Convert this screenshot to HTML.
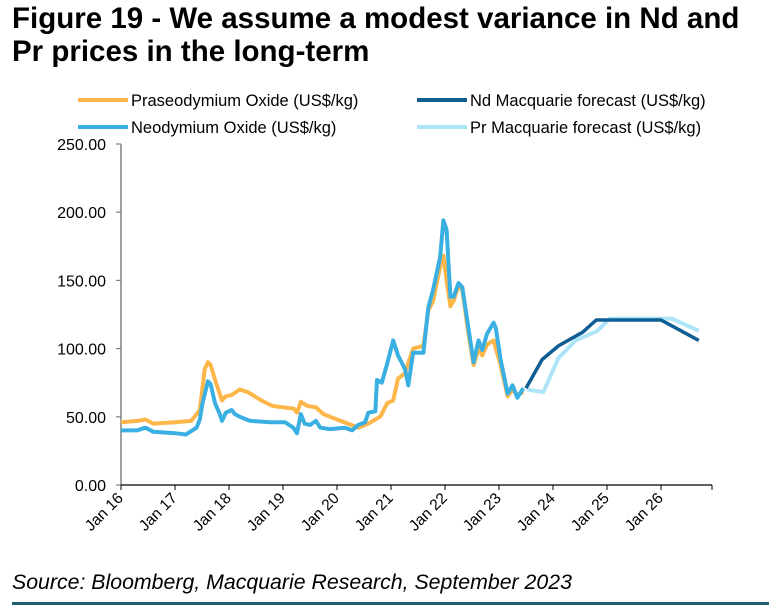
<!DOCTYPE html>
<html><head><meta charset="utf-8"><style>
body{margin:0;background:#fff;width:769px;height:608px;overflow:hidden;font-family:"Liberation Sans",sans-serif}
#title{position:absolute;left:12px;top:2px;font-size:29.5px;font-weight:bold;line-height:33px;color:#000}
#src{position:absolute;left:12px;top:570px;font-size:21.3px;font-style:italic;color:#000}
#rule{position:absolute;left:12px;top:602px;width:757px;height:3px;background:#1d5f70}
</style></head><body>
<div id="title">Figure 19 - We assume a modest variance in Nd and<br>Pr prices in the long-term</div>
<svg id="chart" width="769" height="608" style="position:absolute;left:0;top:0"></svg>
<div id="src">Source: Bloomberg, Macquarie Research, September 2023</div>
<div id="rule"></div>
<script>
const yTicks=[0,50,100,150,200,250];
const xYears=[2016,2017,2018,2019,2020,2021,2022,2023,2024,2025,2026];
const xLabels=["Jan 16","Jan 17","Jan 18","Jan 19","Jan 20","Jan 21","Jan 22","Jan 23","Jan 24","Jan 25","Jan 26"];
const ndT=[0,0.3,0.45,0.6,1.0,1.2,1.4,1.46,1.51,1.61,1.66,1.74,1.83,1.87,1.94,2.05,2.11,2.20,2.39,2.76,3.04,3.19,3.26,3.33,3.40,3.50,3.61,3.69,3.87,4.15,4.28,4.39,4.52,4.58,4.71,4.74,4.83,4.93,5.04,5.13,5.26,5.32,5.41,5.60,5.69,5.78,5.91,5.97,6.03,6.10,6.16,6.25,6.32,6.43,6.53,6.62,6.69,6.78,6.90,6.94,7.03,7.16,7.25,7.34,7.45];
const ndV=[40,40,42,39,38,37,42,48,60,76,74,60,52,47,53,55,52,50,47,46,46,42,38,52,45,44,47,42,41,42,40,44,46,53,54,77,75,89,106,95,85,73,97,97,130,143,167,194,187,138,138,148,145,116,90,106,99,111,119,115,92,67,73,64,71];
const prT=[0,0.3,0.45,0.6,1.0,1.3,1.4,1.46,1.55,1.61,1.66,1.75,1.87,1.94,2.05,2.2,2.35,2.6,2.8,3.0,3.2,3.26,3.33,3.45,3.61,3.75,4.0,4.2,4.4,4.58,4.71,4.8,4.93,5.04,5.13,5.26,5.41,5.60,5.69,5.78,5.91,5.97,6.03,6.10,6.16,6.25,6.32,6.43,6.53,6.62,6.69,6.78,6.90,6.94,7.03,7.16,7.25,7.34,7.45];
const prV=[46,47,48,45,46,47,52,55,85,90,88,76,62,65,66,70,68,62,58,57,56,53,61,58,57,52,48,45,42,45,48,50,60,62,78,82,100,102,128,135,160,168,150,131,135,146,143,112,88,100,95,103,106,100,88,65,70,66,68];
const ndfT=[7.5,7.8,8.1,8.55,8.8,10.0,10.7];
const ndfV=[71,92,102,112,121,121,106];
const prfT=[7.52,7.82,8.1,8.42,8.82,9.05,10.2,10.7];
const prfV=[70,68,93,106,113,122,122,113];
const NS="http://www.w3.org/2000/svg",svg=document.getElementById('chart');
const X0=121,XS=54,Y0=485,YS=341/250;
const xs=t=>X0+t*XS, ys=v=>Y0-v*YS;
function mk(tag,at,parent){const e=document.createElementNS(NS,tag);for(const k in at)e.setAttribute(k,at[k]);(parent||svg).appendChild(e);return e;}
let a=mk('line',{x1:X0,y1:ys(250),x2:X0,y2:Y0,stroke:'#808080','stroke-width':1.5});


a=mk('line',{x1:X0,y1:Y0,x2:712,y2:Y0,stroke:'#000','stroke-width':1.2});


yTicks.forEach(v=>{
 mk('line',{x1:X0-5,y1:ys(v),x2:X0,y2:ys(v),stroke:'#808080','stroke-width':1.2});
 const t=mk('text',{x:X0-15,y:ys(v)+6,'text-anchor':'end','font-size':16,fill:'#000'});
 t.textContent=v.toFixed(2);
 
 
});
xYears.concat([2027]).forEach((yr,i)=>{
 const x=Math.min(xs(yr-2016),712);
 mk('line',{x1:x,y1:Y0,x2:x,y2:Y0+5,stroke:'#000','stroke-width':1});
 if(i<xLabels.length){
  const t=mk('text',{x:x+3,y:Y0+14,'text-anchor':'end','font-size':15.5,fill:'#000',transform:`rotate(-45 ${x+3} ${Y0+14})`});
  t.textContent=xLabels[i];
  
  
 }
});
function line(T,V,color,w,name){
 const d=T.map((t,i)=>(i?'L':'M')+xs(t).toFixed(1)+','+ys(V[i]).toFixed(1)).join('');
 const p=mk('path',{d,fill:'none',stroke:color,'stroke-width':w,'stroke-linejoin':'round'});
 
 
}
line(prfT,prfV,'#aee4f8',4,'pr-forecast-line');
line(ndfT,ndfV,'#0f5e93',3.5,'nd-forecast-line');
line(prT,prV,'#fdb64a',4,'praseodymium-line');
line(ndT,ndV,'#3ab0e2',4,'neodymium-line');
const leg=[[78,100,'#fdb64a','Praseodymium Oxide (US$/kg)'],[417,100,'#0f5e93','Nd Macquarie forecast (US$/kg)'],[78,127,'#3ab0e2','Neodymium Oxide (US$/kg)'],[417,127,'#aee4f8','Pr Macquarie forecast (US$/kg)']];
leg.forEach(l=>{
 const g=mk('g',{});
 
 
 mk('line',{x1:l[0],y1:l[1],x2:l[0]+50,y2:l[1],stroke:l[2],'stroke-width':4},g);
 const t=mk('text',{x:l[0]+53,y:l[1]+6,'font-size':16.5,fill:'#000'},g);
 t.textContent=l[3];
});
</script>
</body></html>
